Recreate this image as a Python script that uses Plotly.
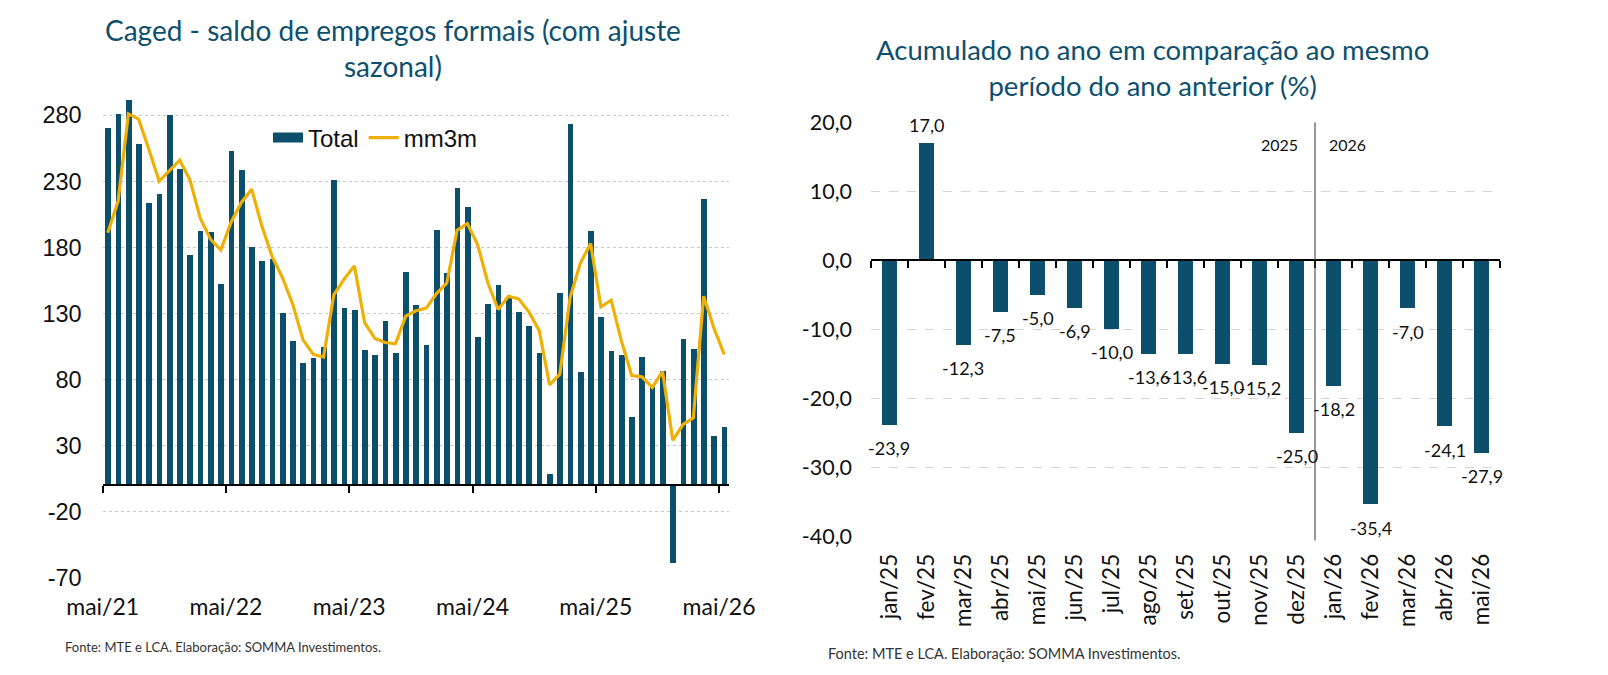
import plotly.graph_objects as go

W, H = 1608, 675
BLUE = "#0B4F6C"
GOLD = "#EEB006"
TITLE_C = "#0E4F6E"

MESES = ["jan", "fev", "mar", "abr", "mai", "jun", "jul", "ago", "set", "out", "nov", "dez"]

# ---------------- Left chart data (Caged, mil vagas, com ajuste sazonal) ----------------
meses_caged = [f"{MESES[(4 + i) % 12]}/{21 + (4 + i) // 12}" for i in range(61)]
total = [270, 281, 291, 258, 213, 220, 280, 239, 174, 192, 191, 152,
         253, 238, 180, 169, 171, 130, 109, 92, 96, 104, 231, 134,
         132, 102, 98, 124, 100, 161, 136, 106, 193, 160, 225, 210,
         112, 137, 151, 141, 131, 120, 100, 8, 145, 273, 85, 192,
         127, 101, 98, 51, 97, 74, 86, -59, 110, 103, 216, 37, 44]
mm3m = [191, 215, 281, 277, 254, 230, 238, 246, 231, 202, 186, 178,
        199, 214, 224, 196, 173, 157, 137, 110, 99, 97, 144, 156,
        166, 123, 111, 108, 107, 128, 132, 134, 145, 153, 193, 198,
        182, 153, 133, 143, 141, 131, 117, 76, 84, 142, 168, 183,
        135, 140, 109, 83, 82, 74, 86, 34, 46, 51, 143, 119, 99]
left_yticks = [-70, -20, 30, 80, 130, 180, 230, 280]
left_yrange = [-70, 295]

# ---------------- Right chart data (acumulado no ano, %) ----------------
cats = ["jan/25", "fev/25", "mar/25", "abr/25", "mai/25", "jun/25", "jul/25", "ago/25",
        "set/25", "out/25", "nov/25", "dez/25", "jan/26", "fev/26", "mar/26", "abr/26", "mai/26"]
acum = [-23.9, 17.0, -12.3, -7.5, -5.0, -6.9, -10.0, -13.6, -13.6, -15.0, -15.2,
        -25.0, -18.2, -35.4, -7.0, -24.1, -27.9]
right_yticks = [-40, -30, -20, -10, 0, 10, 20]
right_yrange = [-40, 20]


def br(v):
    return f"{v:.1f}".replace(".", ",")


# pixel geometry -> paper domains
def px_x(px):
    return px / W


def px_y(py):
    return (H - py) / H


xl = [px_x(102.7), px_x(729.3)]
yl = [px_y(577.7), px_y(95.4)]
xr = [px_x(871), px_x(1500)]
yr = [px_y(536.3), px_y(122.3)]

nL = len(total)
xL = list(range(nL))
mai_idx = [i for i, m in enumerate(meses_caged) if m.startswith("mai")]
left_tickvals = [i - 0.5 for i in mai_idx]
left_ticktext = [meses_caged[i] for i in mai_idx]

nR = len(cats)
xR = list(range(nR))

zero_left = yl[0] + (0 - left_yrange[0]) / (left_yrange[1] - left_yrange[0]) * (yl[1] - yl[0])
zero_right = yr[0] + (0 - right_yrange[0]) / (right_yrange[1] - right_yrange[0]) * (yr[1] - yr[0])

fig = go.Figure()

# Left chart
fig.add_trace(go.Bar(x=xL, y=total, width=0.56, marker=dict(color=BLUE, line=dict(width=0)),
                     name="Total", xaxis="x", yaxis="y", hoverinfo="skip", showlegend=False))
# legend entry for the bars drawn as a wide swatch (no data points)
fig.add_trace(go.Scatter(x=[None], y=[None], mode="lines", line=dict(color=BLUE, width=13),
                         name="Total", xaxis="x", yaxis="y", hoverinfo="skip"))
fig.add_trace(go.Scatter(x=xL, y=mm3m, mode="lines", line=dict(color=GOLD, width=3.2),
                         name="mm3m", xaxis="x", yaxis="y", hoverinfo="skip"))
fig.add_trace(go.Scatter(x=[None], y=[None], xaxis="x3", yaxis="y", showlegend=False, hoverinfo="skip"))

# Right chart
fig.add_trace(go.Bar(x=xR, y=acum, width=0.42, marker=dict(color=BLUE, line=dict(width=0)),
                     showlegend=False, xaxis="x2", yaxis="y2", hoverinfo="skip"))
fig.add_trace(go.Scatter(x=[None], y=[None], xaxis="x4", yaxis="y2", showlegend=False, hoverinfo="skip"))

# data labels for right chart, placed at the bar ends through the axis scale
for xi, v in zip(xR, acum):
    fig.add_annotation(xref="x2", yref="y2", x=xi, y=v, text=br(v), showarrow=False,
                       xanchor="center", yanchor="top" if v < 0 else "bottom",
                       yshift=-10 if v < 0 else 5,
                       font=dict(family="Lato", size=18, color="#111111"))

axis_common = dict(zeroline=False, automargin=False, fixedrange=True)

fig.update_layout(
    width=W, height=H, autosize=False,
    margin=dict(l=0, r=0, t=0, b=0),
    paper_bgcolor="white", plot_bgcolor="white",
    bargap=0,
    showlegend=True,
    legend=dict(orientation="h", x=px_x(268), xanchor="left", y=px_y(138), yanchor="middle",
                font=dict(family="Liberation Sans, Arial", size=24, color="#111111"),
                bgcolor="rgba(0,0,0,0)", itemwidth=30, traceorder="normal"),
    xaxis=dict(domain=xl, anchor="y", range=[-0.5, nL - 0.5], tickmode="array",
               tickvals=left_tickvals, ticktext=left_ticktext, showgrid=False, showline=False,
               ticks="", ticklabelstandoff=13,
               tickfont=dict(family="Lato", size=23, color="#111111"), **axis_common),
    yaxis=dict(domain=yl, anchor="x", range=left_yrange, tickmode="array", tickvals=left_yticks,
               ticktext=[str(v) for v in left_yticks], showgrid=True, gridcolor="#c8c8c8",
               griddash="dot", gridwidth=1, showline=False, ticks="", ticklabelstandoff=20,
               tickfont=dict(family="Liberation Sans, Arial", size=23.5, color="#111111"), **axis_common),
    xaxis3=dict(overlaying="x", anchor="free", position=zero_left, range=[-0.5, nL - 0.5],
                tickmode="array", tickvals=left_tickvals, showticklabels=False, showgrid=False,
                showline=True, linecolor="#000000", linewidth=2, ticks="outside", ticklen=7,
                tickwidth=2, tickcolor="#000000", **axis_common),
    xaxis2=dict(domain=xr, anchor="y2", range=[-0.5, nR - 0.5], tickmode="array",
                tickvals=xR, ticktext=cats, tickangle=-90, showgrid=False, showline=False,
                ticks="", ticklabelstandoff=12,
                tickfont=dict(family="Lato", size=22.5, color="#111111"), **axis_common),
    yaxis2=dict(domain=yr, anchor="x2", range=right_yrange, tickmode="array", tickvals=right_yticks,
                ticktext=[br(v) for v in right_yticks], showgrid=True, gridcolor="#d4d4d4",
                griddash="dash", gridwidth=1, showline=False, ticks="", ticklabelstandoff=18,
                tickfont=dict(family="Lato", size=21.5, color="#111111"), **axis_common),
    xaxis4=dict(overlaying="x2", anchor="free", position=zero_right, range=[-0.5, nR - 0.5],
                tickmode="array", tickvals=[i - 0.5 for i in range(nR + 1)], showticklabels=False,
                showgrid=False, showline=True, linecolor="#000000", linewidth=1.5,
                ticks="outside", ticklen=7, tickwidth=1.5, tickcolor="#000000", **axis_common),
)

# year separator on right chart
sep = cats.index("jan/26") - 0.5
fig.add_shape(type="line", xref="x2", yref="y2 domain", x0=sep, x1=sep, y0=-0.01, y1=1,
              line=dict(color="#333333", width=1))
fig.add_annotation(xref="x2", yref="paper", x=sep, y=px_y(145), text="2025", showarrow=False,
                   xanchor="right", yanchor="middle", xshift=-15,
                   font=dict(family="Lato", size=16, color="#111111"))
fig.add_annotation(xref="x2", yref="paper", x=sep, y=px_y(145), text="2026", showarrow=False,
                   xanchor="left", yanchor="middle", xshift=12,
                   font=dict(family="Lato", size=16, color="#111111"))

# titles
fig.add_annotation(xref="paper", yref="paper", x=px_x(393), y=px_y(48),
                   text="Caged - saldo de empregos formais (com ajuste<br>sazonal)",
                   showarrow=False, xanchor="center", yanchor="middle", align="center",
                   font=dict(family="Lato", size=28, color=TITLE_C))
fig.add_annotation(xref="paper", yref="paper", x=px_x(1152), y=px_y(67),
                   text="Acumulado no ano em comparação ao mesmo<br>período do ano anterior (%)",
                   showarrow=False, xanchor="center", yanchor="middle", align="center",
                   font=dict(family="Lato", size=27.5, color=TITLE_C))

# sources
fig.add_annotation(xref="paper", yref="paper", x=px_x(63), y=px_y(647),
                   text="Fonte: MTE e LCA. Elaboração: SOMMA Investimentos.",
                   showarrow=False, xanchor="left", yanchor="middle",
                   font=dict(family="Lato", size=13, color="#333333"))
fig.add_annotation(xref="paper", yref="paper", x=px_x(826), y=px_y(653),
                   text="Fonte: MTE e LCA. Elaboração: SOMMA Investimentos.",
                   showarrow=False, xanchor="left", yanchor="middle",
                   font=dict(family="Lato", size=14.5, color="#333333"))

fig.write_html("out.html")
